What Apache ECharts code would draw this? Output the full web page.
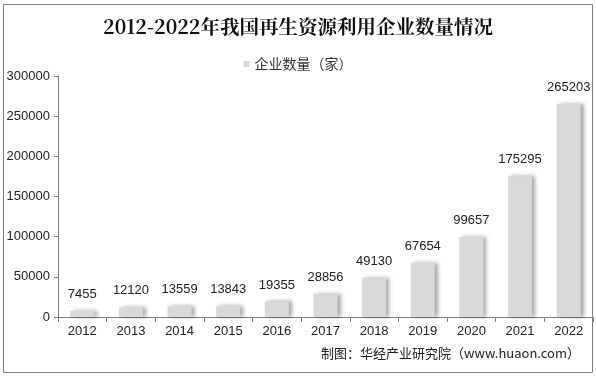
<!DOCTYPE html>
<html>
<head>
<meta charset="utf-8">
<script src="https://cdn.jsdelivr.net/npm/echarts@6/dist/echarts.min.js"></script>
<style>
  body { margin: 0; background: #fff; }
  #chart { width: 596px; height: 377px; }
</style>
</head>
<body>
<div id="chart"></div>
<script>
// 年份
const years = ['2012', '2013', '2014', '2015', '2016', '2017', '2018', '2019', '2020', '2021', '2022'];
// 企业数量（家）
const counts = [7455, 12120, 13559, 13843, 19355, 28856, 49130, 67654, 99657, 175295, 265203];

const myChart = echarts.init(document.getElementById('chart'));
myChart.setOption({
  animation: false,
  title: {
    text: '2012-2022年我国再生资源利用企业数量情况',
    left: 'center',
    top: 12,
    textStyle: {
      fontFamily: 'Noto Serif CJK SC, serif',
      fontSize: 19.5,
      fontWeight: 'bold',
      color: '#111'
    }
  },
  legend: {
    top: 52,
    left: 'center',
    itemWidth: 6,
    itemHeight: 6,
    itemGap: 4,
    icon: 'rect',
    textStyle: { fontSize: 14, color: '#333', fontFamily: 'Noto Sans CJK SC' },
    data: ['企业数量（家）']
  },
  grid: {
    left: 58, //与左边的距离
    right: 3,
    top: 76,
    bottom: 60
  },
  xAxis: {
    type: 'category',
    data: years,
    axisLine: { lineStyle: { color: '#7f7f7f' } },
    axisTick: { show: true, length: 5, lineStyle: { color: '#7f7f7f' } },
    axisLabel: { color: '#222', fontSize: 13, margin: 8, fontFamily: 'Arial, Liberation Sans' }
  },
  yAxis: {
    type: 'value',
    min: 0,
    max: 300000,
    interval: 50000,
    axisLine: { show: true, lineStyle: { color: '#7f7f7f' } },
    axisTick: { show: true, length: 4, lineStyle: { color: '#7f7f7f' } },
    axisLabel: {
      color: '#222',
      fontSize: 13,
      margin: 8,
      fontFamily: 'Arial, Liberation Sans',
      formatter: (v) => String(v)
    },
    splitLine: { show: false }
  },
  series: [
    {
      name: '企业数量（家）',
      type: 'bar',
      data: counts,
      barWidth: 24,
      itemStyle: {
        color: '#d9d9d9',
        shadowColor: 'rgba(0,0,0,0.35)',
        shadowBlur: 4,
        shadowOffsetX: 3,
        shadowOffsetY: 0
      },
      label: {
        show: true,
        position: 'top',
        distance: 10,
        color: '#222',
        fontSize: 13,
        fontFamily: 'Arial, Liberation Sans'
      }
    }
  ],
  graphic: [
    {
      type: 'rect',
      shape: { x: 3.5, y: 4.5, width: 589, height: 368 },
      style: { fill: 'none', stroke: '#808080', lineWidth: 1 },
      silent: true
    },
    {
      type: 'text',
      right: 16,
      top: 347,
      style: {
        text: '制图：华经产业研究院（www.huaon.com）',
        fill: '#222',
        fontSize: 13,
        fontFamily: 'Noto Sans CJK SC'
      }
    }
  ]
});
</script>
</body>
</html>
